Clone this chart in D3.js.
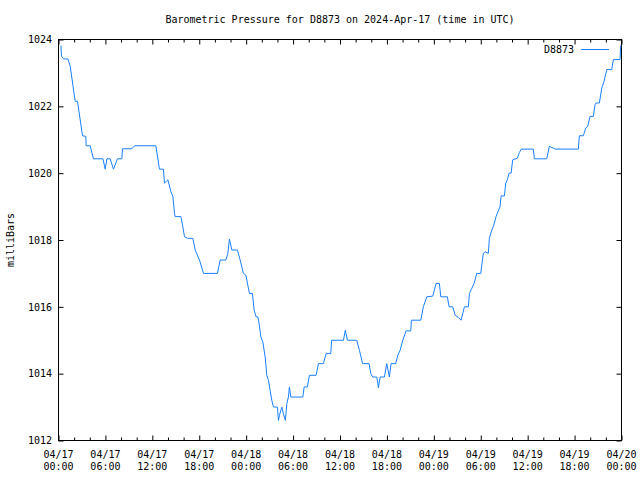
<!DOCTYPE html>
<html><head><meta charset="utf-8">
<script src="https://cdn.jsdelivr.net/npm/d3@7"></script>
<style>body{margin:0;background:#fff}svg{display:block}text{font-family:"DejaVu Sans Mono","Liberation Mono",monospace;font-size:10px;fill:#000}</style>
</head><body>
<script>
// hours since 2024-04-17 00:00 UTC
const hours = [0.31,0.38,0.64,1.20,1.50,2.13,2.43,3.07,3.50,3.53,4.05,4.47,5.68,5.97,6.19,6.61,7.03,7.54,8.11,8.18,9.38,9.72,12.45,12.91,13.42,13.55,13.99,14.37,14.63,14.83,14.92,15.65,15.90,16.11,16.49,17.18,17.48,18.03,18.54,20.33,20.67,21.40,21.66,21.86,22.17,22.88,23.23,23.65,23.96,24.42,24.80,25.02,25.27,25.49,25.62,25.88,26.13,26.43,26.64,26.85,27.06,27.28,27.49,28.00,28.13,28.25,28.56,28.76,29.02,29.20,29.40,29.53,29.71,31.25,31.41,31.83,32.09,32.94,33.24,33.88,34.22,34.82,34.93,36.44,36.68,36.95,38.15,38.48,38.89,39.72,39.94,40.19,40.71,40.91,41.13,41.68,41.98,42.32,42.53,43.13,43.39,43.69,44.03,44.45,45.05,45.13,46.33,46.66,47.10,47.86,48.07,48.29,48.71,48.89,49.73,49.95,50.42,50.72,51.14,51.48,51.70,51.91,52.42,52.55,52.85,53.15,53.49,54.00,54.21,54.34,54.55,54.97,55.10,55.41,55.61,55.96,56.12,56.47,56.60,57.02,57.20,57.40,57.62,57.88,58.09,58.68,58.94,59.19,60.73,60.86,62.44,62.77,63.28,63.50,66.48,66.61,67.12,67.43,67.68,67.98,68.40,68.62,68.75,69.17,69.48,69.77,70.11,70.75,70.96,71.81,71.90];
const pressure = [1023.82,1023.5,1023.42,1023.42,1023.2,1022.15,1022.15,1021.12,1021.1,1020.82,1020.82,1020.43,1020.43,1020.12,1020.43,1020.43,1020.12,1020.43,1020.43,1020.73,1020.73,1020.82,1020.82,1020.12,1020.12,1019.7,1019.8,1019.45,1019.3,1018.8,1018.7,1018.7,1018.4,1018.1,1018.05,1018.05,1017.7,1017.4,1017.0,1017.0,1017.4,1017.4,1017.6,1018.03,1017.7,1017.7,1017.4,1017.0,1016.95,1016.4,1016.4,1015.9,1015.7,1015.7,1015.55,1015.1,1014.95,1014.5,1013.95,1013.8,1013.5,1013.2,1013.0,1013.0,1012.6,1012.75,1013.0,1012.8,1012.6,1013.1,1013.3,1013.6,1013.3,1013.3,1013.6,1013.6,1013.95,1013.95,1014.3,1014.3,1014.6,1014.6,1015.0,1015.0,1015.3,1015.0,1015.0,1014.7,1014.3,1014.3,1014.0,1013.9,1013.9,1013.58,1013.9,1013.9,1014.3,1013.9,1014.3,1014.3,1014.55,1014.7,1015.0,1015.28,1015.28,1015.6,1015.6,1016.0,1016.3,1016.32,1016.5,1016.7,1016.7,1016.3,1016.3,1016.0,1016.0,1015.75,1015.68,1015.6,1015.8,1016.0,1016.0,1016.4,1016.55,1016.7,1017.0,1017.0,1017.4,1017.6,1017.65,1017.6,1018.05,1018.3,1018.4,1018.7,1018.8,1019.0,1019.32,1019.32,1019.7,1019.8,1020.0,1020.0,1020.4,1020.45,1020.62,1020.72,1020.72,1020.43,1020.43,1020.8,1020.75,1020.72,1020.72,1021.12,1021.12,1021.35,1021.4,1021.7,1021.7,1022.05,1022.1,1022.1,1022.55,1022.75,1023.1,1023.1,1023.4,1023.4,1023.82];
const xTickHours = [0,6,12,18,24,30,36,42,48,54,60,66,72];
const xTickDates = ["04/17","04/17","04/17","04/17","04/18","04/18","04/18","04/18","04/19","04/19","04/19","04/19","04/20"];
const xTickTimes = ["00:00","06:00","12:00","18:00","00:00","06:00","12:00","18:00","00:00","06:00","12:00","18:00","00:00"];
const yTicks = [1012,1014,1016,1018,1020,1022,1024];
const title = "Barometric Pressure for D8873 on 2024-Apr-17 (time in UTC)";
const seriesName = "D8873";
const yLabel = "milliBars";

const W = 640, H = 480;
const L = 58.5, R = 621.5, T = 39.5, B = 440.5;
const color = "#1a80ff";

const svg = d3.select("body").append("svg").attr("width", W).attr("height", H);
const x = d3.scaleLinear().domain([0, 72]).range([L, R]);
const y = d3.scaleLinear().domain([1012, 1024]).range([B, T]);

const minor = d3.range(0, 73, 2).filter(h => h % 6 !== 0);

function hAxis(gen, yPos) {
  const g = svg.append("g").attr("transform", `translate(0,${yPos})`);
  g.call(gen(x).tickValues(xTickHours).tickSize(-5).tickFormat(""));
  g.select(".domain").remove();
  g.selectAll(".tick line").attr("stroke", "#000");
  const g2 = svg.append("g").attr("transform", `translate(0,${yPos})`);
  g2.call(gen(x).tickValues(minor).tickSize(-3).tickFormat(""));
  g2.select(".domain").remove();
  g2.selectAll(".tick line").attr("stroke", "#000");
}
hAxis(d3.axisBottom, B);
hAxis(d3.axisTop, T);

const yl = svg.append("g").attr("transform", `translate(${L},0)`)
  .call(d3.axisLeft(y).tickValues(yTicks).tickSize(-5).tickPadding(6).tickFormat(d3.format("d")));
yl.select(".domain").remove();
yl.selectAll(".tick line").attr("stroke", "#000");
yl.selectAll(".tick text").attr("font-family", null).attr("font-size", null).attr("x", -6.5);
const yr = svg.append("g").attr("transform", `translate(${R},0)`)
  .call(d3.axisRight(y).tickValues(yTicks).tickSize(-5).tickFormat(""));
yr.select(".domain").remove();
yr.selectAll(".tick line").attr("stroke", "#000");

svg.append("rect").attr("x", L).attr("y", T).attr("width", R - L).attr("height", B - T)
  .attr("fill", "none").attr("stroke", "#000").attr("stroke-width", 1);

const lbl = svg.append("g");
xTickHours.forEach((h, i) => {
  lbl.append("text").attr("x", x(h)).attr("y", 458).attr("text-anchor", "middle").text(xTickDates[i]);
  lbl.append("text").attr("x", x(h)).attr("y", 470).attr("text-anchor", "middle").text(xTickTimes[i]);
});

const data = hours.map((h, i) => [h, pressure[i]]);
svg.append("path").datum(data)
  .attr("d", d3.line().x(d => x(d[0])).y(d => y(d[1])))
  .attr("fill", "none").attr("stroke", color).attr("stroke-width", 1);

svg.append("text").attr("x", 340).attr("y", 23).attr("text-anchor", "middle").text(title);
svg.append("text").attr("transform", "translate(14,240) rotate(-90)").attr("text-anchor", "middle").text(yLabel);

svg.append("text").attr("x", 574).attr("y", 53).attr("text-anchor", "end").text(seriesName);
svg.append("line").attr("x1", 581).attr("x2", 609).attr("y1", 49.5).attr("y2", 49.5)
  .attr("stroke", color).attr("stroke-width", 1);
</script>
</body></html>
